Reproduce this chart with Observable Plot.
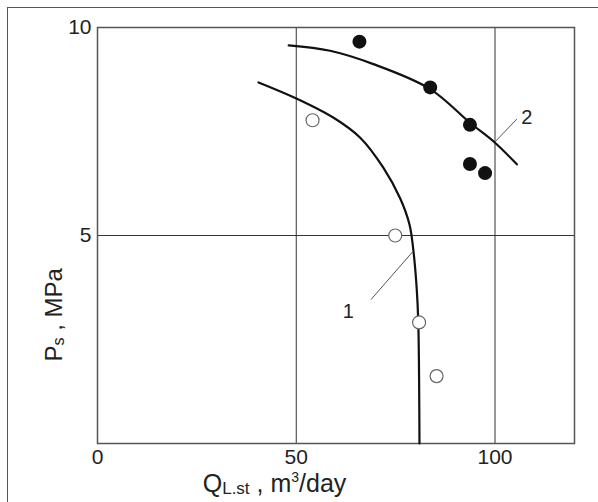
<!DOCTYPE html>
<html><head><meta charset="utf-8">
<script src="https://cdn.jsdelivr.net/npm/d3@7"></script>
<script src="https://cdn.jsdelivr.net/npm/@observablehq/plot@0.6"></script>
<style>
body{margin:0;background:#fff;}
#wrap{position:relative;width:598px;height:502px;overflow:hidden;}
#border{position:absolute;left:7px;top:7px;width:700px;height:700px;border-left:1.5px solid #555;border-top:1.5px solid #555;pointer-events:none;}
svg{font-family:"Liberation Sans",Arial,sans-serif;}
</style></head><body><div id="wrap"><div id="border"></div></div>
<script>
// ticks and grid
const xTicks = [0, 50, 100];
const yTicks = [5, 10];
const gridX = [50, 100];
const gridY = [5];

// curve 1 (open circles)
const curve1X = [40.5, 49.9, 59.4, 66.1, 71.9, 76.1, 78.5, 79.5, 80.3, 80.7, 81.0];
const curve1Y = [8.68, 8.30, 7.83, 7.35, 6.63, 5.90, 5.26, 4.61, 3.73, 2.92, 0];
// curve 2 (filled circles)
const curve2X = [48.1, 58.5, 69.4, 83.7, 93.7, 100, 105.5];
const curve2Y = [9.57, 9.44, 9.12, 8.52, 7.71, 7.23, 6.71];

// measured points
const openX = [54.1, 74.9, 80.9, 85.3];
const openY = [7.77, 5.0, 2.91, 1.62];
const filledX = [65.9, 83.7, 93.7, 93.7, 97.5];
const filledY = [9.66, 8.56, 7.66, 6.72, 6.50];

// curve labels and leader lines
const curveLabels = ["1", "2"];
const labelX = [63.1, 108.0];
const labelY = [3.16, 7.83];
const leaderX1 = [68.8, 100.0];
const leaderY1 = [3.46, 7.25];
const leaderX2 = [79.3, 105.5];
const leaderY2 = [4.61, 7.80];

// axis titles (anchor positions in data units)
const yTitlePos = [-8.8, 1.96];
const xTitlePos = [26.6, -1.18];

const c1 = curve1X.map((x, i) => ({x, y: curve1Y[i]}));
const c2 = curve2X.map((x, i) => ({x, y: curve2Y[i]}));
const open = openX.map((x, i) => ({x, y: openY[i]}));
const filled = filledX.map((x, i) => ({x, y: filledY[i]}));
const labels = curveLabels.map((t, i) => ({t, x: labelX[i], y: labelY[i]}));
const leaders = leaderX1.map((x1, i) => ({x1, y1: leaderY1[i], x2: leaderX2[i], y2: leaderY2[i]}));

const plot = Plot.plot({
  width: 598,
  height: 502,
  marginLeft: 97,
  marginRight: 24,
  marginTop: 27,
  marginBottom: 59,
  style: {fontFamily: "Liberation Sans, Arial, sans-serif", background: "transparent", overflow: "visible"},
  x: {domain: [0, 120]},
  y: {domain: [0, 10]},
  marks: [
    Plot.ruleX(gridX, {stroke: "#333", strokeWidth: 1}),
    Plot.ruleY(gridY, {stroke: "#333", strokeWidth: 1}),
    Plot.frame({stroke: "#555", strokeWidth: 1.5}),
    Plot.axisX(xTicks, {tickSize: 0, tickPadding: 6, fontSize: 21, fill: "#222", label: null}),
    Plot.axisY(yTicks, {tickSize: 0, tickPadding: 6, fontSize: 21, fill: "#222", label: null}),
    Plot.line(c1, {x: "x", y: "y", curve: "catmull-rom", stroke: "#111", strokeWidth: 2.2}),
    Plot.line(c2, {x: "x", y: "y", curve: "catmull-rom", stroke: "#111", strokeWidth: 2.2}),
    Plot.link(leaders, {x1: "x1", y1: "y1", x2: "x2", y2: "y2", stroke: "#555", strokeWidth: 1}),
    Plot.dot(open, {x: "x", y: "y", r: 6.5, fill: "white", stroke: "#666", strokeWidth: 1.2}),
    Plot.dot(filled, {x: "x", y: "y", r: 7, fill: "#111", stroke: "none"}),
    Plot.text(labels, {x: "x", y: "y", text: "t", fontSize: 20, fill: "#222"})
  ]
});

document.getElementById("wrap").prepend(plot);

const xs = plot.scale("x"), ys = plot.scale("y");
const svg = d3.select(plot);

// y title: Ps , MPa (rotated)
const yx = xs.apply(yTitlePos[0]), yy = ys.apply(yTitlePos[1]);
const yt = svg.append("text")
  .attr("transform", `translate(${yx},${yy}) rotate(-90)`)
  .attr("text-anchor", "start")
  .attr("font-size", 24)
  .attr("fill", "#222");
yt.append("tspan").text("P");
yt.append("tspan").attr("font-size", 16).attr("dy", 2).text("s");
yt.append("tspan").attr("dy", -2).text(" , MPa");

// x title: QL.st , m3/day
const xx = xs.apply(xTitlePos[0]), xy = ys.apply(xTitlePos[1]);
const xt = svg.append("text")
  .attr("x", xx).attr("y", xy)
  .attr("text-anchor", "start")
  .attr("font-size", 25)
  .attr("fill", "#222");
xt.append("tspan").text("Q");
xt.append("tspan").attr("font-size", 17).attr("dy", 2).text("L.st");
xt.append("tspan").attr("dy", -2).text(" , m");
xt.append("tspan").attr("font-size", 14).attr("dy", -10).text("3");
xt.append("tspan").attr("dy", 10).text("/day");
</script>
</body></html>
